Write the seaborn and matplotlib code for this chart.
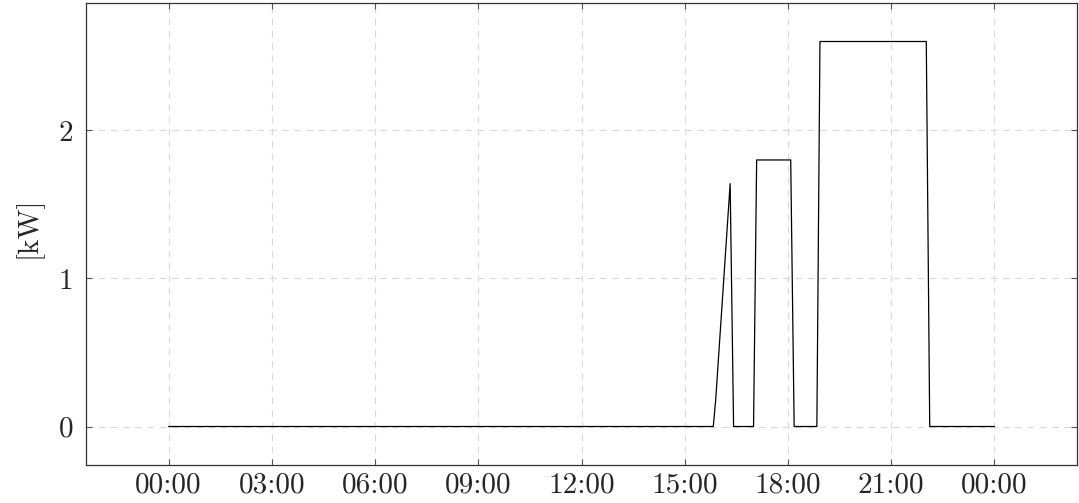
import matplotlib
matplotlib.use("Agg")
import matplotlib.pyplot as plt
import seaborn as sns
import pandas as pd

# Power draw over one day (hours since midnight, kW)
hours = [0.0, 15.83, 15.90, 16.32, 16.42, 17.00, 17.09, 18.08, 18.18,
         18.84, 18.93, 22.02, 22.12, 24.0]
power_kw = [0.0, 0.0, 0.18, 1.64, 0.0, 0.0, 1.80, 1.80, 0.0,
            0.0, 2.60, 2.60, 0.0, 0.0]

tick_hours = [0, 3, 6, 9, 12, 15, 18, 21, 24]
tick_labels = ["00:00", "03:00", "06:00", "09:00", "12:00",
               "15:00", "18:00", "21:00", "00:00"]
y_ticks = [0, 1, 2]

sns.set_style("white")
plt.rcParams["font.family"] = ["cmr10", "DejaVu Serif"]
plt.rcParams["axes.formatter.use_mathtext"] = True

df = pd.DataFrame({"hour": hours, "kW": power_kw})

fig = plt.figure(figsize=(10.79, 5.03), dpi=100)
ax = fig.add_axes([86 / 1079, 38 / 503, 991 / 1079, 462 / 503])

sns.lineplot(data=df, x="hour", y="kW", ax=ax, color="black",
             linewidth=0.9, sort=False, estimator=None)

ax.set_xlim(-2.4, 26.4)
ax.set_ylim(-0.26, 2.86)
ax.set_xticks(tick_hours)
ax.set_xticklabels(tick_labels)
ax.set_yticks(y_ticks)
ax.set_yticklabels([str(v) for v in y_ticks])

ax.grid(True, color="#d9d9d9", linestyle=(0, (6, 5)), linewidth=0.8)
ax.set_axisbelow(True)

for side in ax.spines.values():
    side.set_color("#333333")
    side.set_linewidth(0.9)

ax.tick_params(axis="both", direction="in", length=4, width=0.8,
               color="#555555", labelsize=21, top=True, right=True,
               bottom=True, left=True)
ax.tick_params(axis="x", pad=5)
ax.tick_params(axis="y", pad=9)

ax.set_xlabel("")
ax.set_ylabel("[kW]", fontsize=21)
ax.yaxis.set_label_coords(-0.044, 0.515)

fig.savefig("out.png", dpi=100)
